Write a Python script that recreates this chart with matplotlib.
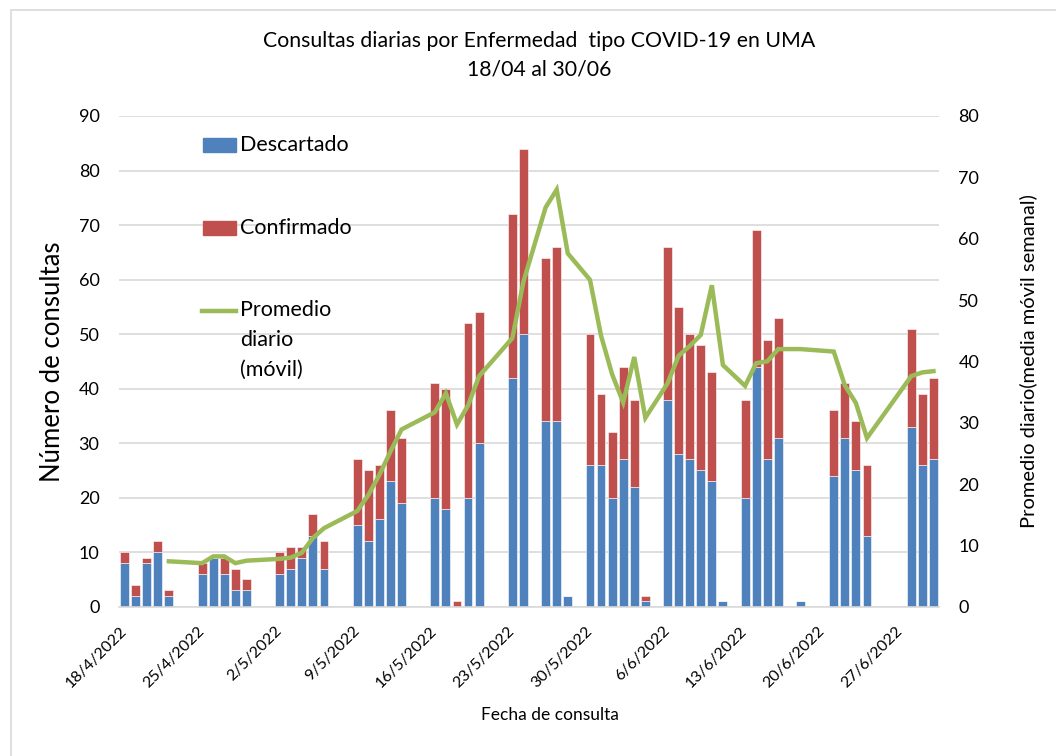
import matplotlib
matplotlib.use("Agg")
import matplotlib.pyplot as plt
import matplotlib.dates as mdates
from matplotlib.patches import Rectangle
from matplotlib.lines import Line2D
import pandas as pd

plt.rcParams['font.family'] = ['Lato', 'DejaVu Sans']

# Daily consultations (weekdays plus a few Saturdays)
fechas = [
    "2022-04-18", "2022-04-19", "2022-04-20", "2022-04-21", "2022-04-22",
    "2022-04-25", "2022-04-26", "2022-04-27", "2022-04-28", "2022-04-29",
    "2022-05-02", "2022-05-03", "2022-05-04", "2022-05-05", "2022-05-06",
    "2022-05-09", "2022-05-10", "2022-05-11", "2022-05-12", "2022-05-13",
    "2022-05-16", "2022-05-17", "2022-05-18", "2022-05-19", "2022-05-20",
    "2022-05-23", "2022-05-24", "2022-05-26", "2022-05-27", "2022-05-28",
    "2022-05-30", "2022-05-31", "2022-06-01", "2022-06-02", "2022-06-03", "2022-06-04",
    "2022-06-06", "2022-06-07", "2022-06-08", "2022-06-09", "2022-06-10", "2022-06-11",
    "2022-06-13", "2022-06-14", "2022-06-15", "2022-06-16", "2022-06-18",
    "2022-06-21", "2022-06-22", "2022-06-23", "2022-06-24",
    "2022-06-28", "2022-06-29", "2022-06-30",
]
descartado = [
    8, 2, 8, 10, 2,
    6, 9, 6, 3, 3,
    6, 7, 9, 13, 7,
    15, 12, 16, 23, 19,
    20, 18, 0, 20, 30,
    42, 50, 34, 34, 2,
    26, 26, 20, 27, 22, 1,
    38, 28, 27, 25, 23, 1,
    20, 44, 27, 31, 1,
    24, 31, 25, 13,
    33, 26, 27,
]
confirmado = [
    2, 2, 1, 2, 1,
    2, 0, 3, 4, 2,
    4, 4, 2, 4, 5,
    12, 13, 10, 13, 12,
    21, 22, 1, 32, 24,
    30, 34, 30, 32, 0,
    24, 13, 12, 17, 16, 1,
    28, 27, 23, 23, 20, 0,
    18, 25, 22, 22, 0,
    12, 10, 9, 13,
    18, 13, 15,
]

# Weekly moving average (secondary axis)
fechas_promedio = [
    "2022-04-22",
    "2022-04-25", "2022-04-26", "2022-04-27", "2022-04-28", "2022-04-29",
    "2022-05-02", "2022-05-03", "2022-05-04", "2022-05-05", "2022-05-06",
    "2022-05-09", "2022-05-10", "2022-05-11", "2022-05-12", "2022-05-13",
    "2022-05-16", "2022-05-17", "2022-05-18", "2022-05-19", "2022-05-20",
    "2022-05-23", "2022-05-24", "2022-05-26", "2022-05-27", "2022-05-28",
    "2022-05-30", "2022-05-31", "2022-06-01", "2022-06-02", "2022-06-03", "2022-06-04",
    "2022-06-06", "2022-06-07", "2022-06-08", "2022-06-09", "2022-06-10", "2022-06-11",
    "2022-06-13", "2022-06-14", "2022-06-15", "2022-06-16", "2022-06-18",
    "2022-06-21", "2022-06-22", "2022-06-23", "2022-06-24",
    "2022-06-28", "2022-06-29", "2022-06-30",
]
promedio = [
    7.4,
    7.1, 8.2, 8.2, 7.1, 7.5,
    7.8, 8.0, 8.8, 11.2, 12.8,
    15.6, 18.2, 21.5, 25.3, 28.9,
    31.7, 34.8, 29.7, 32.8, 37.6,
    43.8, 53.0, 65.1, 68.0, 57.6,
    53.3, 44.2, 37.9, 33.3, 40.7, 30.8,
    36.4, 40.9, 42.5, 44.3, 52.4, 39.4,
    36.0, 39.7, 40.0, 42.0, 42.0,
    41.6, 36.1, 33.2, 27.5,
    37.6, 38.2, 38.4,
]

etiquetas_x = ["18/4/2022", "25/4/2022", "2/5/2022", "9/5/2022", "16/5/2022",
               "23/5/2022", "30/5/2022", "6/6/2022", "13/6/2022", "20/6/2022",
               "27/6/2022"]

AZUL = "#4F81BD"
ROJO = "#C0504D"
VERDE = "#9BBB59"
GRIS = "#D9D9D9"

W, H = 1056, 756
fig = plt.figure(figsize=(W / 100, H / 100), dpi=100)

def fx(px):
    return px / W

def fy(py):
    return 1 - py / H

# Chart-area border
fig.add_artist(Rectangle((fx(11), fy(770)), fx(1060), fy(10) - fy(770),
                         transform=fig.transFigure, fill=False,
                         edgecolor=GRIS, linewidth=1.2))

ax = fig.add_axes([fx(119), fy(606.7), fx(939) - fx(119), fy(116) - fy(606.7)])
ax2 = ax.twinx()

x = pd.to_datetime(fechas)
xp = pd.to_datetime(fechas_promedio)

ax.bar(x, descartado, width=0.8, color=AZUL, edgecolor="white", linewidth=0.4,
       zorder=2)
ax.bar(x, confirmado, bottom=descartado, width=0.8, color=ROJO,
       edgecolor="white", linewidth=0.4, zorder=2)
ax2.plot(xp, promedio, color=VERDE, linewidth=3.2, solid_joinstyle="miter",
         zorder=3)

ax.set_ylim(0, 90)
ax.set_yticks(range(0, 91, 10))
ax2.set_ylim(0, 80)
ax2.set_yticks(range(0, 81, 10))

x0 = pd.Timestamp("2022-04-18")
ax.set_xlim(mdates.date2num(x0) - 0.5, mdates.date2num(pd.Timestamp("2022-06-30")) + 0.5)
ticks = [mdates.date2num(x0 + pd.Timedelta(days=7 * i)) for i in range(len(etiquetas_x))]
ax.set_xticks(ticks)
ax.set_xticklabels(etiquetas_x, rotation=45, ha="right", va="center",
                   rotation_mode="anchor", fontsize=11.5)

ax.yaxis.grid(True, color=GRIS, linewidth=1.2, zorder=0)
ax.set_axisbelow(True)
for a in (ax, ax2):
    for s in ("top", "left", "right"):
        a.spines[s].set_visible(False)
    a.spines["bottom"].set_color(GRIS)
    a.spines["bottom"].set_linewidth(1.2)
    a.tick_params(length=0)
ax2.spines["bottom"].set_visible(False)

ax.tick_params(axis="y", labelsize=13, pad=14)
ax.tick_params(axis="x", pad=16)
ax2.tick_params(axis="y", labelsize=13, pad=14)

ax.set_ylabel("Número de consultas", fontsize=18.5, labelpad=10)
ax2.set_ylabel("Promedio diario(media móvil semanal)", fontsize=14.5, labelpad=29)
fig.text(fx(550), fy(715), "Fecha de consulta", ha="center", va="center",
         fontsize=12.5)

fig.text(fx(539), fy(41), "Consultas diarias por Enfermedad  tipo COVID-19 en UMA",
         ha="center", va="center", fontsize=15.3)
fig.text(fx(539), fy(70), "18/04 al 30/06", ha="center", va="center",
         fontsize=15.3)

# Legend drawn in place
fig.add_artist(Rectangle((fx(203), fy(152)), fx(33), fy(138) - fy(152),
                         transform=fig.transFigure, color=AZUL))
fig.text(fx(240), fy(145), "Descartado", ha="left", va="center", fontsize=15.5)
fig.add_artist(Rectangle((fx(203), fy(235)), fx(33), fy(221) - fy(235),
                         transform=fig.transFigure, color=ROJO))
fig.text(fx(240), fy(228), "Confirmado", ha="left", va="center", fontsize=15.5)
fig.add_artist(Line2D([fx(202), fx(236)], [fy(311), fy(311)],
                      transform=fig.transFigure, color=VERDE, linewidth=3.2))
for texto, py in (("Promedio", 310), ("diario", 340), ("(móvil)", 370)):
    fig.text(fx(240), fy(py), texto, ha="left", va="center", fontsize=15.5)

fig.savefig("out.png", dpi=100)
